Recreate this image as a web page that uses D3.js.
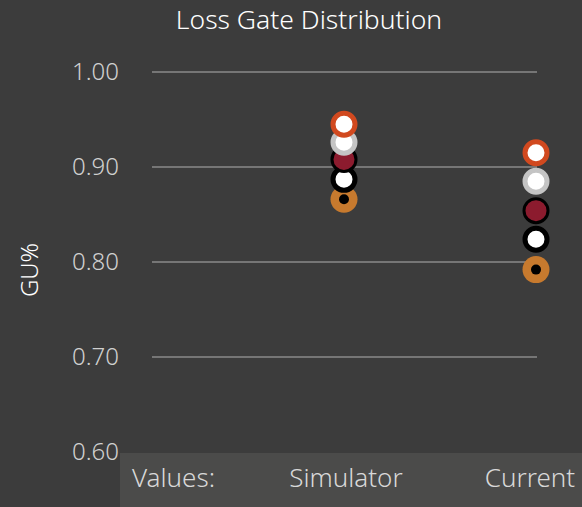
<!DOCTYPE html>
<html>
<head>
<meta charset="utf-8">
<script src="https://cdn.jsdelivr.net/npm/d3@7"></script>
<style>
  html, body { margin: 0; padding: 0; background: #3c3c3c; }
  svg { display: block; font-family: "Noto Sans", "Open Sans", sans-serif; font-weight: 300; }
</style>
</head>
<body>
<svg width="582" height="507"></svg>
<script>
// categories along the x axis
const categories = ["Simulator", "Current"];
// one array per series, values per category
const seriesA = [0.945, 0.915]; // orange-red ring
const seriesB = [0.926, 0.885]; // grey ring
const seriesC = [0.908, 0.854]; // dark red
const seriesD = [0.887, 0.824]; // black ring
const seriesE = [0.866, 0.792]; // orange with dot
const yTicks = [0.6, 0.7, 0.8, 0.9, 1.0];

let svg = d3.select("svg"),
  width = +svg.attr("width"),
  height = +svg.attr("height");

let yScale = d3.scaleLinear().domain([0.6, 1.0]).range([452, 72]);
let xScale = d3.scalePoint().domain(categories).range([344, 536]);

// title
svg.append("text")
  .attr("x", 309)
  .attr("y", 29)
  .attr("text-anchor", "middle")
  .attr("fill", "#ffffff")
  .attr("font-size", 26.5)
  .text("Loss Gate Distribution");

// gridlines
svg.append("g")
  .selectAll("line")
  .data(yTicks.filter(d => d > 0.6))
  .enter()
  .append("line")
  .attr("x1", 152)
  .attr("x2", 537)
  .attr("y1", d => yScale(d))
  .attr("y2", d => yScale(d))
  .attr("stroke", "#b0b0b0")
  .attr("stroke-width", 1);

// tick labels
svg.append("g")
  .selectAll("text")
  .data(yTicks)
  .enter()
  .append("text")
  .attr("x", 119)
  .attr("y", d => yScale(d))
  .attr("dy", "0.35em")
  .attr("text-anchor", "end")
  .attr("fill", "#d0d0d0")
  .attr("font-size", 24)
  .text(d => d3.format(".2f")(d));

// y label
svg.append("text")
  .attr("transform", "translate(38,270) rotate(-90)")
  .attr("text-anchor", "middle")
  .attr("fill", "#ffffff")
  .attr("font-size", 24)
  .text("GU%");

// bottom band with category labels
svg.append("rect")
  .attr("x", 120)
  .attr("y", 453)
  .attr("width", width - 120)
  .attr("height", height - 453)
  .attr("fill", "#4b4b4a");

svg.append("text")
  .attr("x", 132)
  .attr("y", 487)
  .attr("fill", "#d8d8d8")
  .attr("font-size", 26)
  .text("Values:");

svg.append("g")
  .selectAll("text")
  .data(categories)
  .enter()
  .append("text")
  .attr("x", d => Math.min(xScale(d) + 2, width - 52))
  .attr("y", 487)
  .attr("text-anchor", "middle")
  .attr("fill", "#d8d8d8")
  .attr("font-size", 26)
  .text(d => d);

// series styles, drawn bottom first
let series = [
  { values: seriesE, fill: "#c77a2e", stroke: "#c77a2e", sw: 0, r: 13.5, dot: true },
  { values: seriesD, fill: "#ffffff", stroke: "#000000", sw: 5, r: 11 },
  { values: seriesC, fill: "#8c1b2e", stroke: "#000000", sw: 3, r: 12 },
  { values: seriesB, fill: "#ffffff", stroke: "#c4c4c4", sw: 5, r: 11 },
  { values: seriesA, fill: "#ffffff", stroke: "#d1491f", sw: 5, r: 11 }
];

series.forEach(function(s) {
  let g = svg.append("g");
  g.selectAll("circle.pt")
    .data(s.values)
    .enter()
    .append("circle")
    .attr("class", "pt")
    .attr("cx", (d, i) => xScale(categories[i]))
    .attr("cy", d => yScale(d))
    .attr("r", s.r)
    .attr("fill", s.fill)
    .attr("stroke", s.stroke)
    .attr("stroke-width", s.sw);
  if (s.dot) {
    g.selectAll("circle.dot")
      .data(s.values)
      .enter()
      .append("circle")
      .attr("class", "dot")
      .attr("cx", (d, i) => xScale(categories[i]))
      .attr("cy", d => yScale(d))
      .attr("r", 5)
      .attr("fill", "#000000");
  }
});
</script>
</body>
</html>
